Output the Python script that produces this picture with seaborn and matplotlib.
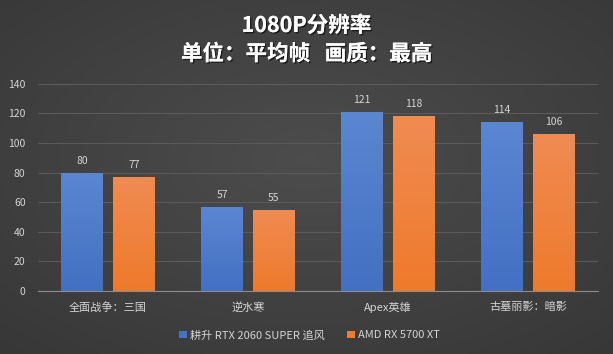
import numpy as np
import pandas as pd
import matplotlib
matplotlib.use("Agg")
import matplotlib.pyplot as plt
import matplotlib.patheffects as pe
from matplotlib.colors import LinearSegmentedColormap
import seaborn as sns

categories = ["全面战争：三国", "逆水寒", "Apex英雄", "古墓丽影：暗影"]
series_names = ["耕升 RTX 2060 SUPER 追风", "AMD RX 5700 XT"]
values_a = [80, 57, 121, 114]
values_b = [77, 55, 118, 106]
colors = ["#4472C4", "#ED7D31"]
gradients = [("#5A86D2", "#4470C3"), ("#F08B52", "#EE7A2B")]

df = pd.DataFrame({
    "game": categories * 2,
    "card": [series_names[0]] * 4 + [series_names[1]] * 4,
    "fps": values_a + values_b,
})

sns.set_theme(style="dark")
plt.rcParams['font.family'] = ['Noto Sans CJK SC', 'DejaVu Sans']

fig = plt.figure(figsize=(6.13, 3.54), dpi=100)
# background gradient
bg = fig.add_axes([0, 0, 1, 1])
yy, xx = np.mgrid[0:1:200j, 0:1:300j]
r = np.sqrt(((xx - 0.5) / 0.8) ** 2 + ((yy - 0.55) / 0.8) ** 2)
grad = 0.30 - 0.09 * r
bg.imshow(np.dstack([grad, grad, grad]), extent=[0, 1, 0, 1], aspect='auto', origin='lower')
bg.set_axis_off()

ax = fig.add_axes([0.062, 0.178, 0.9135, 0.585])
ax.set_facecolor("none")
sns.barplot(data=df, x="game", y="fps", hue="card", palette=colors,
            width=0.74, gap=0.19, ax=ax, saturation=1, legend=True,
            linewidth=0, edgecolor="none")

ax.set_ylim(0, 140)
ax.set_yticks(range(0, 141, 20))
ax.yaxis.grid(True, color="#5a5a5a", linewidth=0.8)
ax.xaxis.grid(False)
ax.set_axisbelow(True)
for s in ["top", "right", "left"]:
    ax.spines[s].set_visible(False)
ax.spines["bottom"].set_color("#8c8c8c")
ax.spines["bottom"].set_linewidth(0.8)
ax.tick_params(axis='both', length=0, colors="#d4d4d4", labelsize=7.5)
ax.tick_params(axis='y', pad=9)
ax.tick_params(axis='x', pad=8, labelsize=8)
ax.set_xlabel("")
ax.set_ylabel("")

# vertical gradient fill on each bar
xlim = ax.get_xlim()
for cont, (top_c, bot_c) in zip(ax.containers, gradients):
    cmap = LinearSegmentedColormap.from_list("g", [bot_c, top_c])
    for p in cont.patches:
        x0, w, h = p.get_x(), p.get_width(), p.get_height()
        im = ax.imshow(np.linspace(0, 1, 64).reshape(-1, 1), cmap=cmap,
                       extent=[x0, x0 + w, 0, h], origin='lower', aspect='auto', zorder=p.get_zorder())
        im.set_clip_path(p)
ax.set_xlim(xlim)
ax.set_ylim(0, 140)
ax.set_aspect('auto')

for cont in ax.containers:
    ax.bar_label(cont, fmt="%d", padding=5, color="#d4d4d4", fontsize=7.5)

leg = ax.legend(loc="upper center", bbox_to_anchor=(0.485, -0.14), ncol=2,
                frameon=False, fontsize=8, handlelength=0.7, handleheight=0.7,
                handletextpad=0.3, columnspacing=2.0)
for t in leg.get_texts():
    t.set_color("#d4d4d4")

shadow = [pe.withSimplePatchShadow(offset=(1, -1), shadow_rgbFace="black", alpha=0.6), pe.Normal()]
fig.text(0.5, 0.928, "1080P分辨率", ha="center", va="center", color="white",
         fontsize=15.5, fontweight="bold", path_effects=shadow)
fig.text(0.5, 0.848, "单位：平均帧   画质：最高", ha="center", va="center", color="white",
         fontsize=15.5, fontweight="bold", path_effects=shadow)

fig.savefig("out.png", dpi=100)
